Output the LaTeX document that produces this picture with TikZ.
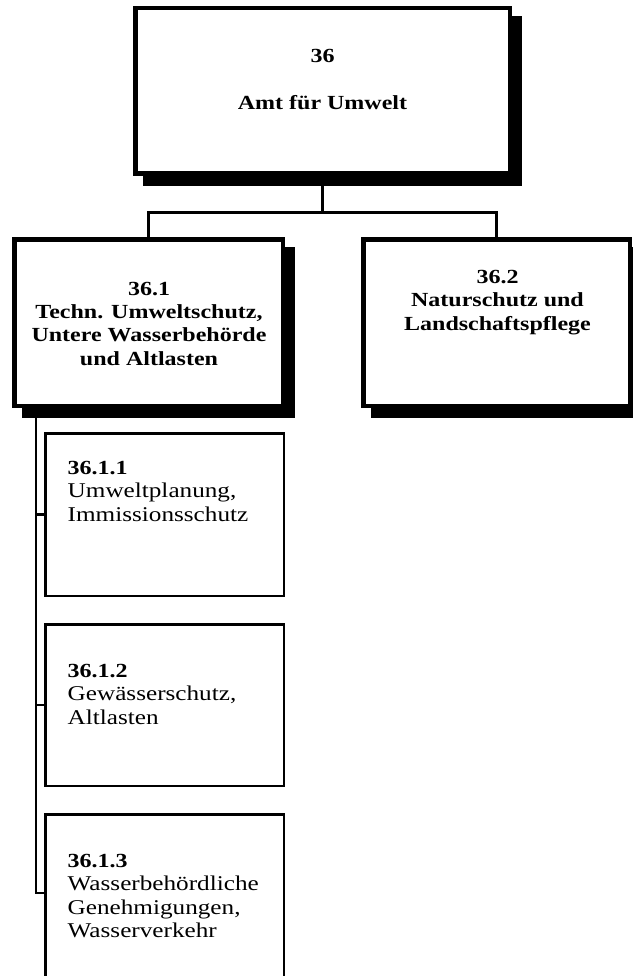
\documentclass[tikz,border=0pt]{standalone}
\usepackage{fontspec}
\setmainfont{Liberation Serif}[FakeStretch=1.2]
\pgfdeclarelayer{background}
\pgfsetlayers{background,main}
\newcommand\ctrlines[1]{\vtop{\halign{\hfil##\hfil\cr#1\crcr}}}
\newcommand\leftlines[1]{\vtop{\halign{##\hfil\cr#1\crcr}}}
\newcommand\subhead[1]{{\fontsize{20}{23.6}\selectfont\bfseries #1}}
\begin{document}
\begin{tikzpicture}[x=1pt,y=-1pt,
  bigbox/.style={draw,fill=white,line width=4.5pt,inner sep=0pt},
  subbox/.style={draw,fill=white,line width=2.5pt,inner sep=0pt,minimum width=238.5pt},
  conn/.style={line width=3pt},
  spine/.style={line width=2.3pt},
  boldtext/.style={font=\fontsize{20}{23.4}\selectfont\bfseries,inner sep=0pt,anchor=base},
  subtext/.style={font=\fontsize{21}{23.6}\selectfont,inner sep=0pt,anchor=base west}]
\useasboundingbox (0,0) rectangle (632,976);
\clip (0,0) rectangle (632,976);

% main boxes
\node[bigbox,minimum width=374.5pt,minimum height=165.5pt] (top) at (322.5,91) {};
\node[bigbox,minimum width=268.5pt,minimum height=166.5pt] (b1) at (148.5,322.5) {};
\node[bigbox,minimum width=266.5pt,minimum height=166.5pt] (b2) at (496.5,322.5) {};

% shadows
\begin{pgfonlayer}{background}
\foreach \n in {top,b1,b2}
  \fill[black] ([shift={(10pt,-10pt)}]\n.south west) rectangle ([shift={(10pt,-10pt)}]\n.north east);
\end{pgfonlayer}

% sub boxes
\node[subbox,minimum height=162.5pt] (s1) at (164.5,514.5) {};
\node[subbox,minimum height=161.5pt] (s2) at (164.5,705) {};
\node[subbox,minimum height=164.5pt] (s3) at (164.5,896.5) {};

% texts
\node[boldtext] (t0a) at (322.5,63) {36};
\node[boldtext] (t0b) at (322.5,110) {Amt für Umwelt};
\node[boldtext] (t1) at (149,295) {\ctrlines{36.1\cr Techn. Umweltschutz,\cr Untere Wasserbehörde\cr und Altlasten}};
\node[boldtext] (t2) at (497.5,283.5) {\ctrlines{36.2\cr Naturschutz und\cr Landschaftspflege}};
\node[subtext] (t11) at (67.5,474) {\leftlines{\subhead{36.1.1}\cr Umweltplanung,\cr Immissionsschutz}};
\node[subtext] (t12) at (67.5,677) {\leftlines{\subhead{36.1.2}\cr Gewässerschutz,\cr Altlasten}};
\node[subtext] (t13) at (67.5,867) {\leftlines{\subhead{36.1.3}\cr Wasserbehördliche\cr Genehmigungen,\cr Wasserverkehr}};

% connectors
\coordinate (j) at (322.5,213);
\coordinate (t3) at (36,893);
\draw[conn] (top.south) -- (j);
\draw[conn] (b1.north) |- (j) -| (b2.north);
\draw[spine] ([xshift=24pt]b1.south west) -- (t3) -- (t3 -| s3.west);
\draw[spine] ([xshift=24pt]b1.south west) |- (s1.west);
\draw[spine] ([xshift=24pt]b1.south west) |- (s2.west);
\end{tikzpicture}
\end{document}
